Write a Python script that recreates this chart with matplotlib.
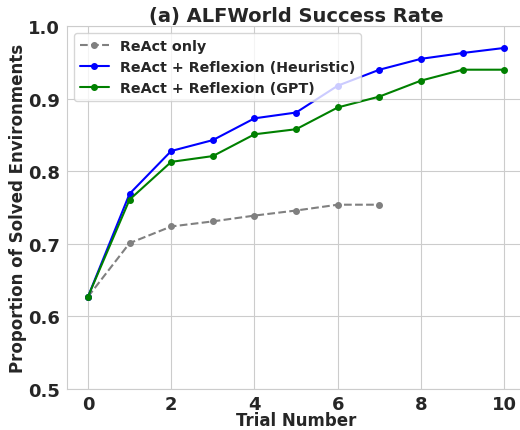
import matplotlib
matplotlib.use("Agg")
import matplotlib.pyplot as plt
import seaborn as sns

sns.set_style("whitegrid")
plt.rcParams['font.family'] = ['DejaVu Sans']

trials_react = [0, 1, 2, 3, 4, 5, 6, 7]
react_only = [0.627, 0.701, 0.724, 0.731, 0.739, 0.746, 0.754, 0.754]

trials = [0, 1, 2, 3, 4, 5, 6, 7, 8, 9, 10]
heuristic = [0.627, 0.769, 0.828, 0.843, 0.873, 0.881, 0.918, 0.940, 0.955, 0.963, 0.970]
gpt = [0.627, 0.761, 0.813, 0.821, 0.851, 0.858, 0.888, 0.903, 0.925, 0.940, 0.940]

fig, ax = plt.subplots(figsize=(5.2, 4.31), dpi=100)
ax.plot(trials_react, react_only, 'o--', color='gray', markersize=4, linewidth=1.5, label='ReAct only')
ax.plot(trials, heuristic, 'o-', color='blue', markersize=4, linewidth=1.5, label='ReAct + Reflexion (Heuristic)')
ax.plot(trials, gpt, 'o-', color='green', markersize=4, linewidth=1.5, label='ReAct + Reflexion (GPT)')

ax.set_xlim(-0.5, 10.5)
ax.set_ylim(0.5, 1.0)
ax.set_xticks([0, 2, 4, 6, 8, 10])
ax.set_yticks([0.5, 0.6, 0.7, 0.8, 0.9, 1.0])
ax.tick_params(axis='both', length=0, pad=5)
ax.tick_params(axis='x', pad=4)
for lab in ax.get_xticklabels() + ax.get_yticklabels():
    lab.set_fontweight('bold')
    lab.set_fontsize(13)
ax.set_xlabel('Trial Number', fontsize=12, fontweight='bold', labelpad=-1)
ax.set_ylabel('Proportion of Solved Environments', fontsize=12, fontweight='bold', labelpad=1)
ax.set_title('(a) ALFWorld Success Rate', fontsize=14, fontweight='bold', pad=4)
leg = ax.legend(loc='upper left', prop={'weight': 'bold', 'size': 10.3},
                borderaxespad=0.5, handlelength=2.0)

plt.subplots_adjust(left=0.129, right=1.01, top=0.937, bottom=0.095)
fig.savefig('out.png')
